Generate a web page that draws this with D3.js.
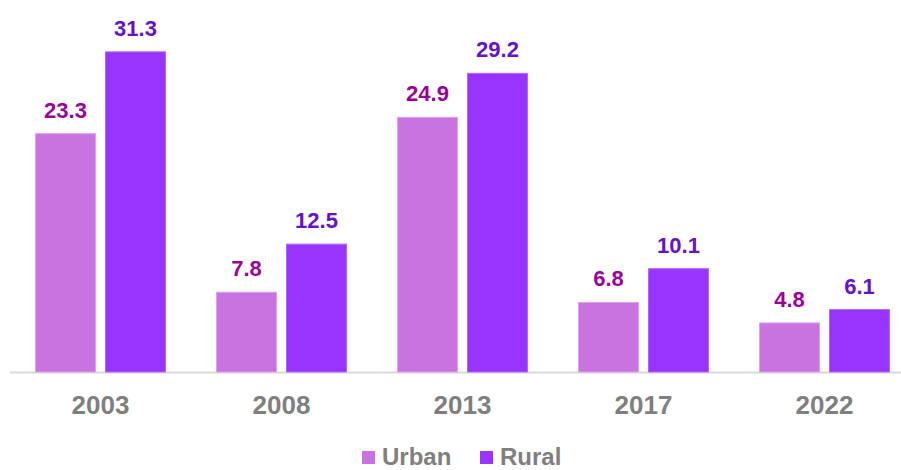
<!DOCTYPE html>
<html>
<head>
<meta charset="utf-8">
<script src="https://cdn.jsdelivr.net/npm/d3@7"></script>
<style>
  body { margin: 0; background: #fff; }
  svg { display: block; font-family: "Liberation Sans", Arial, sans-serif; }
</style>
</head>
<body>
<script>
const years = ["2003", "2008", "2013", "2017", "2022"];
const series = ["Urban", "Rural"];
const urban = [23.3, 7.8, 24.9, 6.8, 4.8];
const rural = [31.3, 12.5, 29.2, 10.1, 6.1];

const width = 901;
const height = 470;

const fills = { Urban: "#c973e0", Rural: "#9933ff" };
const strokes = { Urban: "#dda3ec", Rural: "#b366ff" };
const labelColors = { Urban: "#990099", Rural: "#6611cc" };

const svg = d3.select("body")
  .append("svg")
  .attr("width", width)
  .attr("height", height);

const x0 = d3.scaleBand()
  .domain(years)
  .range([10, 915])
  .paddingInner(0.282)
  .paddingOuter(0.141);

const x1 = d3.scaleBand()
  .domain(series)
  .range([0, x0.bandwidth()])
  .paddingInner(0.143);

const y = d3.scaleLinear()
  .domain([0, 35])
  .range([372, 14]);

const rows = years.map((yr, i) => ({
  year: yr,
  values: [
    { key: "Urban", value: urban[i] },
    { key: "Rural", value: rural[i] }
  ]
}));

// axis line
svg.append("line")
  .attr("x1", 10)
  .attr("x2", width)
  .attr("y1", y(0) + 0.5)
  .attr("y2", y(0) + 0.5)
  .attr("stroke", "#d9d9d9")
  .attr("stroke-width", 2);

const groups = svg.selectAll(".grp")
  .data(rows)
  .enter()
  .append("g")
  .attr("class", "grp")
  .attr("transform", d => `translate(${x0(d.year)},0)`);

groups.selectAll("rect")
  .data(d => d.values)
  .enter()
  .append("rect")
  .attr("x", d => x1(d.key))
  .attr("y", d => y(d.value))
  .attr("width", x1.bandwidth())
  .attr("height", d => y(0) - y(d.value))
  .attr("fill", d => fills[d.key])
  .attr("stroke", d => strokes[d.key])
  .attr("stroke-width", 1);

// values
groups.selectAll(".val")
  .data(d => d.values)
  .enter()
  .append("text")
  .attr("class", "val")
  .attr("x", d => x1(d.key) + x1.bandwidth() / 2)
  .attr("y", d => y(d.value) - 16)
  .attr("text-anchor", "middle")
  .attr("font-size", 22)
  .attr("font-weight", "bold")
  .attr("fill", d => labelColors[d.key])
  .text(d => d.value.toFixed(1));

// year labels
svg.selectAll(".yr")
  .data(years)
  .enter()
  .append("text")
  .attr("class", "yr")
  .attr("x", d => x0(d) + x0.bandwidth() / 2)
  .attr("y", 414)
  .attr("text-anchor", "middle")
  .attr("font-size", 26)
  .attr("font-weight", "bold")
  .attr("fill", "#7f7f7f")
  .text(d => d);

// legend
const legend = svg.append("g");
const legendX = { Urban: 362, Rural: 480 };
series.forEach(s => {
  legend.append("rect")
    .attr("x", legendX[s])
    .attr("y", 451)
    .attr("width", 13)
    .attr("height", 13)
    .attr("fill", fills[s]);
  legend.append("text")
    .attr("x", legendX[s] + 20)
    .attr("y", 465)
    .attr("font-size", 24)
    .attr("font-weight", "bold")
    .attr("fill", "#7f7f7f")
    .text(s);
});
</script>
</body>
</html>
